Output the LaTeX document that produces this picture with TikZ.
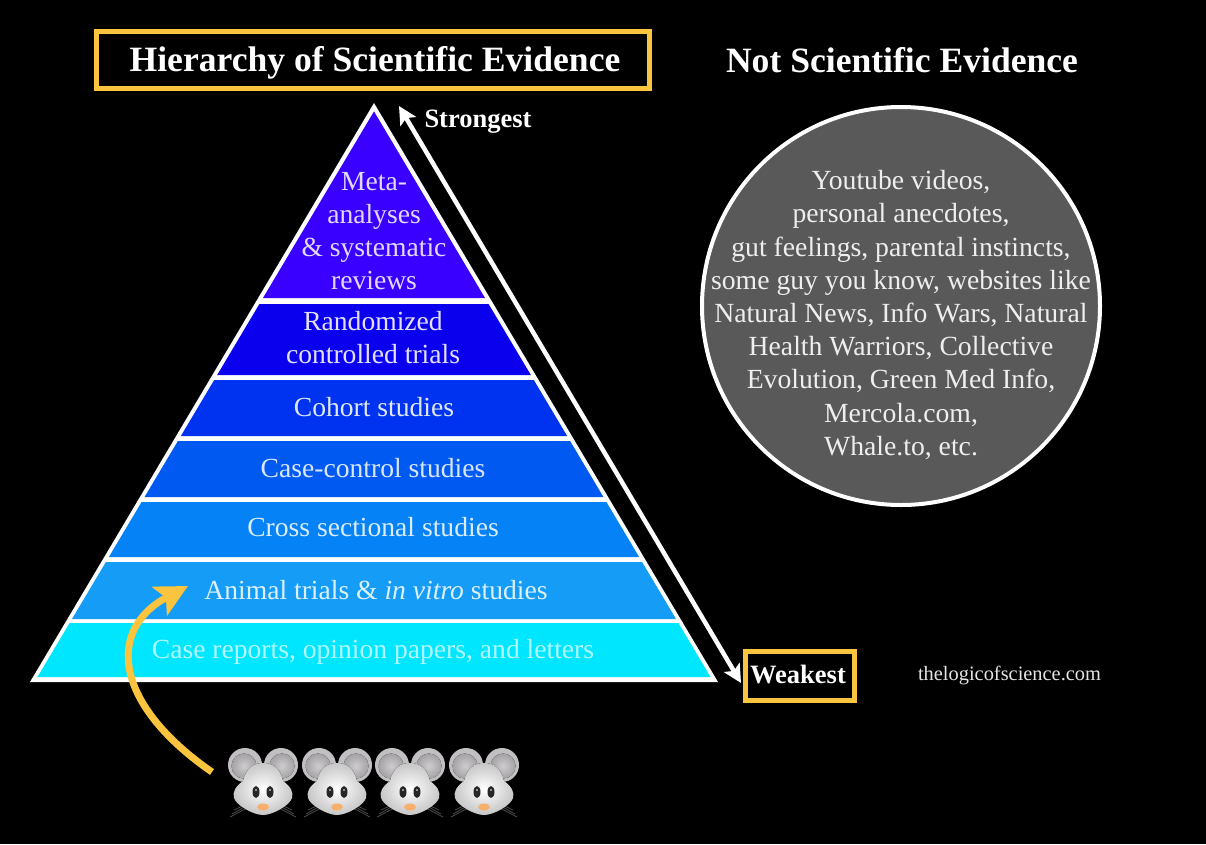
\documentclass[tikz,border=0pt]{standalone}
\usepackage{fontspec}
\setmainfont{Liberation Serif}
\usetikzlibrary{arrows.meta}

\definecolor{boxyellow}{HTML}{FBC43F}
\definecolor{circlegray}{HTML}{595959}
\definecolor{bandA}{HTML}{3A00FF}
\definecolor{bandB}{HTML}{0A00EE}
\definecolor{bandC}{HTML}{0033F0}
\definecolor{bandD}{HTML}{005AF2}
\definecolor{bandE}{HTML}{0582F5}
\definecolor{bandF}{HTML}{149CF7}
\definecolor{bandG}{HTML}{00E6FF}
\definecolor{earrim}{HTML}{C2BFC3}
\definecolor{earin}{HTML}{A5A2A6}

\tikzset{
    bandlabel/.style = {align = center, font = \fontsize{27.6}{33}\selectfont},
    headlabel/.style = {text = white, font = \bfseries\fontsize{35.6}{38}\selectfont},
    smalllabel/.style = {text = white, font = \bfseries\fontsize{26.5}{28}\selectfont},
    yellowbox/.style = {draw = boxyellow, line width = 5pt},
    pics/mouse/.style = {code = {
        %ears
        \foreach \s in {-1,1} {
            \fill[earrim] (\s*18,-25) circle (17);
            \fill[inner color = earrim!80!white, outer color = earin] (\s*19,-24) circle (12.5);
        }
        %whiskers
        \foreach \s in {-1,1} {
            \draw[gray!60!black, line width = 0.8pt] (\s*15,15) -- (\s*31,24);
            \draw[gray!60!black, line width = 0.8pt] (\s*16,18) -- (\s*33,27);
            \draw[gray!60!black, line width = 0.8pt] (\s*14,13) -- (\s*29,20);
        }
        %head
        \fill[inner color = white, outer color = gray!45!white]
            (0,-27) .. controls (10,-27) and (17,-22) .. (20,-9)
            .. controls (27,-4) and (31,2) .. (29,8)
            .. controls (27,15) and (10,25) .. (0,25)
            .. controls (-10,25) and (-27,15) .. (-29,8)
            .. controls (-31,2) and (-27,-4) .. (-20,-9)
            .. controls (-17,-22) and (-10,-27) .. (0,-27) -- cycle;
        %eyes and nose
        \foreach \s in {-1,1} {
            \fill[black!85] (\s*7,2) ellipse (3.5 and 6);
            \fill[white] (\s*7,0) circle (0.9);
        }
        \fill[orange!55!white!85!brown] (0,17) ellipse (6 and 3.5);
    }}
}

\begin{document}
\begin{tikzpicture}[x = 1pt, y = -1pt]
    \def\apexX{374}
    \def\apexY{103}
    \def\slope{0.595}

    \fill[black] (0,0) rectangle (1206,844);
    \useasboundingbox (0,0) rectangle (1206,844);

    %pyramid
    \fill[white] (\apexX,\apexY) -- (718,682) -- (30,682) -- cycle;
    \foreach \yA/\yB/\bandcol in {111.4/298/bandA, 304/375/bandB, 380/436/bandC, 441/497/bandD, 502/557/bandE, 562/619/bandF, 623/677/bandG} {
        \pgfmathsetmacro\wA{(\yA-\apexY)*\slope-5}
        \pgfmathsetmacro\wB{(\yB-\apexY)*\slope-5}
        \fill[\bandcol] (\apexX-\wA,\yA) -- (\apexX+\wA,\yA) -- (\apexX+\wB,\yB) -- (\apexX-\wB,\yB) -- cycle;
    }

    %labels
    \node[bandlabel, text = white!85!bandA] (meta) at (374,231) {Meta-\\analyses\\\& systematic\\reviews};
    \node[bandlabel, text = white!88!bandB] (rct) at (373,337.5) {Randomized\\controlled trials};
    \node[bandlabel, text = white!88!bandC] (cohort) at (374,407) {Cohort studies};
    \node[bandlabel, text = white!85!bandD] (casecontrol) at (373,468) {Case-control studies};
    \node[bandlabel, text = white!85!bandE] (cross) at (373,527) {Cross sectional studies};
    \node[bandlabel, text = white!85!bandF] (animal) at (376,590) {Animal trials \& \textit{in vitro} studies};
    \node[bandlabel, text = white!70!bandG] (casereports) at (373,652) {Case reports, opinion papers, and letters};

    %titles
    \draw[yellowbox] (96,31) rectangle (649,88);
    \node[headlabel] (hierarchy) at (375,63) {Hierarchy of Scientific Evidence};
    \node[headlabel] (notsci) at (902,60) {Not Scientific Evidence};

    %strength arrow
    \node[smalllabel] (strongest) at (478,122) {Strongest};
    \draw[yellowbox] (745.5,651.5) rectangle (854.5,700);
    \node[smalllabel] (weakest) at (798,674) {Weakest};
    \coordinate (strongtip) at (399,106);
    \coordinate (weaktip) at (741,683);
    \draw[white, line width = 4.5pt, {Stealth[length = 18pt, width = 18pt, inset = 4pt]}-{Stealth[length = 18pt, width = 18pt, inset = 4pt]}] (strongtip) -- (weaktip);

    %circle
    \node[circle, draw = white, fill = circlegray, line width = 4pt, minimum size = 398pt, inner sep = 0pt] (notcircle) at (901,306) {};
    \node[text = white!90!circlegray, align = center, font = \fontsize{27.7}{33.2}\selectfont] (nottext) at (901,315)
        {Youtube videos,\\personal anecdotes,\\gut feelings, parental instincts,\\some guy you know, websites like\\Natural News, Info Wars, Natural\\Health Warriors, Collective\\Evolution, Green Med Info,\\Mercola.com,\\Whale.to, etc.};

    \node[text = white!90!black, font = \fontsize{20.4}{23}\selectfont] (website) at (1009.5,676) {thelogicofscience.com};

    %mice
    \foreach \x [count = \i] in {263,337,410,484} {
        \pic (mouse\i) at (\x,790) {mouse};
    }

    %curved arrow
    \coordinate (mousetail) at (212,772);
    \coordinate (animaltip) at (188,586);
    \draw[boxyellow, line width = 7pt, -{Stealth[length = 32pt, width = 32pt, inset = 7pt]}] (mousetail) .. controls (115,705) and (105,630) .. (animaltip);
\end{tikzpicture}
\end{document}
